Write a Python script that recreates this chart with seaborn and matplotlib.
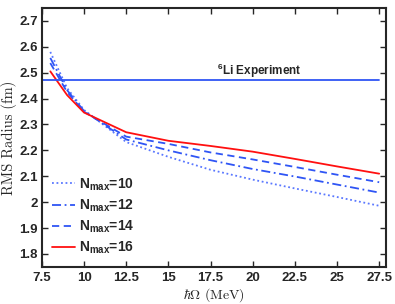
import numpy as np
import pandas as pd
import matplotlib
matplotlib.use("Agg")
import matplotlib.pyplot as plt
import seaborn as sns
from matplotlib.ticker import MultipleLocator, FormatStrFormatter

# hbar*Omega (MeV) and RMS radius (fm) for each Nmax
hw = [8, 9, 10, 12.5, 15, 17.5, 20, 22.5, 25, 27.5]
r_n10 = [2.580, 2.440, 2.356, 2.232, 2.175, 2.125, 2.087, 2.053, 2.020, 1.986]
r_n12 = [2.557, 2.432, 2.352, 2.242, 2.200, 2.162, 2.128, 2.099, 2.068, 2.037]
r_n14 = [2.537, 2.425, 2.349, 2.253, 2.225, 2.192, 2.165, 2.136, 2.106, 2.077]
r_n16 = [2.505, 2.413, 2.346, 2.270, 2.237, 2.217, 2.195, 2.167, 2.138, 2.110]
labels = [r'N$_{max}$=10', r'N$_{max}$=12', r'N$_{max}$=14', r'N$_{max}$=16']
r_exp = 2.47

df = pd.concat([
    pd.DataFrame({'hw': hw, 'r': r, 'series': lab})
    for r, lab in zip([r_n10, r_n12, r_n14, r_n16], labels)
])

sns.set_style("ticks")
plt.rcParams['font.family'] = ['Liberation Sans', 'DejaVu Sans']
plt.rcParams['mathtext.fontset'] = 'custom'
plt.rcParams['mathtext.rm'] = 'Liberation Sans:bold'
plt.rcParams['mathtext.it'] = 'Liberation Sans:bold'
plt.rcParams['mathtext.bf'] = 'Liberation Sans:bold'

fig = plt.figure(figsize=(3.95, 3.04), dpi=100)
ax = fig.add_axes([0.106, 0.122, 0.871, 0.852])

blue = '#2f55f5'
palette = {labels[0]: '#5a78ff', labels[1]: blue, labels[2]: blue, labels[3]: '#ff1010'}
dashes = {labels[0]: (1, 1.5), labels[1]: (5, 2, 1, 2), labels[2]: (4, 2.5), labels[3]: ''}
sns.lineplot(data=df, x='hw', y='r', hue='series', style='series',
             palette=palette, dashes=dashes, linewidth=1.3, ax=ax)

ax.plot([7.5, 27.5], [r_exp, r_exp], color=blue, linewidth=1.3)
ax.text(17.9, r_exp + 0.02, r'$^{6}$Li Experiment', fontsize=8.5,
        fontweight='bold')

ax.set_xlim(7.5, 27.9)
ax.set_ylim(1.75, 2.75)
ax.xaxis.set_major_locator(MultipleLocator(2.5))
ax.yaxis.set_major_locator(MultipleLocator(0.1))
ax.xaxis.set_major_formatter(FormatStrFormatter('%g'))
ax.yaxis.set_major_formatter(FormatStrFormatter('%g'))
ax.tick_params(direction='in', top=True, right=True, length=4, width=1,
               labelsize=9.5, pad=3)
ax.tick_params(axis='x', pad=4)
for lab in ax.get_xticklabels() + ax.get_yticklabels():
    lab.set_fontweight('bold')
for sp in ax.spines.values():
    sp.set_linewidth(1.5)

ax.set_xlabel(r'$\hbar\Omega\ \mathrm{(MeV)}$', fontsize=10, math_fontfamily='cm')
ax.set_ylabel('RMS Radius (fm)', fontsize=10.5, family='cmr10')
ax.xaxis.set_label_coords(0.5, -0.073)
ax.yaxis.set_label_coords(-0.073, 0.5)

leg = ax.legend(loc='lower left', frameon=False, handlelength=1.65,
                handletextpad=0.25, labelspacing=0.35, borderaxespad=0.35,
                prop={'weight': 'bold', 'size': 10})

fig.savefig('out.png', dpi=100)
